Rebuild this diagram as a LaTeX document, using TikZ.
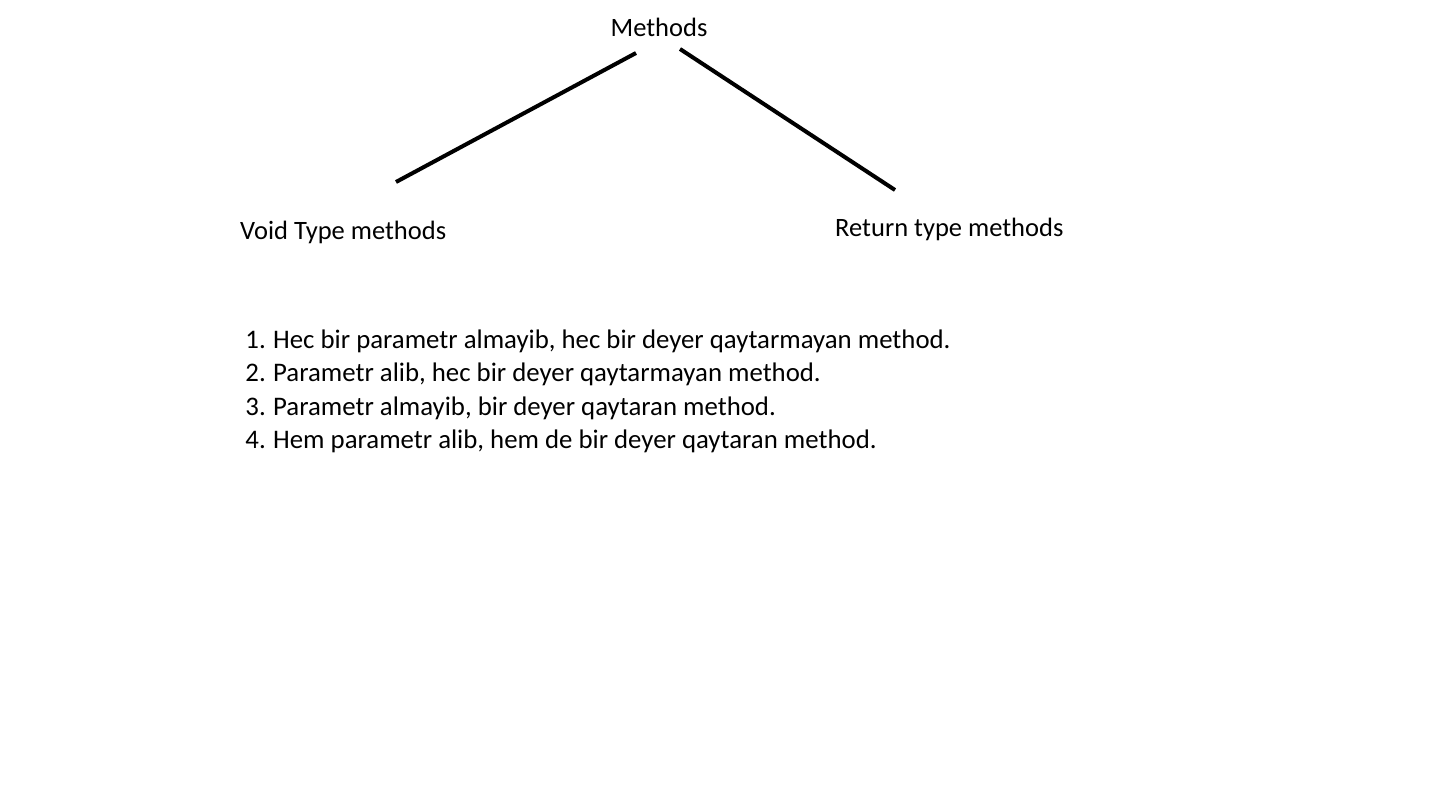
\documentclass[tikz,border=0pt]{standalone}
\usepackage{fontspec}
\setmainfont{Carlito}
\begin{document}
\begin{tikzpicture}[x=1pt,y=-1pt,
  lbl/.style={inner sep=0pt,font=\fontsize{26.5}{30}\selectfont},
  item/.style={inner sep=0pt,font=\fontsize{26.8}{30}\selectfont},
  conn/.style={line width=4pt,black}]
\useasboundingbox (0,0) rectangle (1449,792);
\node[lbl,anchor=base] (m) at (659,37) {Methods};
\node[lbl,anchor=base west] (v) at (240,239) {Void Type methods};
\node[lbl,anchor=base west] (r) at (835,236.5) {Return type methods};
\coordinate (a1) at (636,53);
\coordinate (a2) at (396,182);
\coordinate (b1) at (680,49);
\coordinate (b2) at (895,190);
\draw[conn] (a1) -- (a2);
\draw[conn] (b1) -- (b2);
\node[item,anchor=base east] (n1) at (266,348) {1.};
\node[item,anchor=base east] (n2) at (266,381.5) {2.};
\node[item,anchor=base east] (n3) at (266,415) {3.};
\node[item,anchor=base east] (n4) at (266,448) {4.};
\node[item,anchor=base west] (l1) at (273,348) {Hec bir parametr almayib, hec bir deyer qaytarmayan method.};
\node[item,anchor=base west] (l2) at (273,381.5) {Parametr alib, hec bir deyer qaytarmayan method.};
\node[item,anchor=base west] (l3) at (273,415) {Parametr almayib, bir deyer qaytaran method.};
\node[item,anchor=base west] (l4) at (273,448) {Hem parametr alib, hem de bir deyer qaytaran method.};
\end{tikzpicture}
\end{document}
